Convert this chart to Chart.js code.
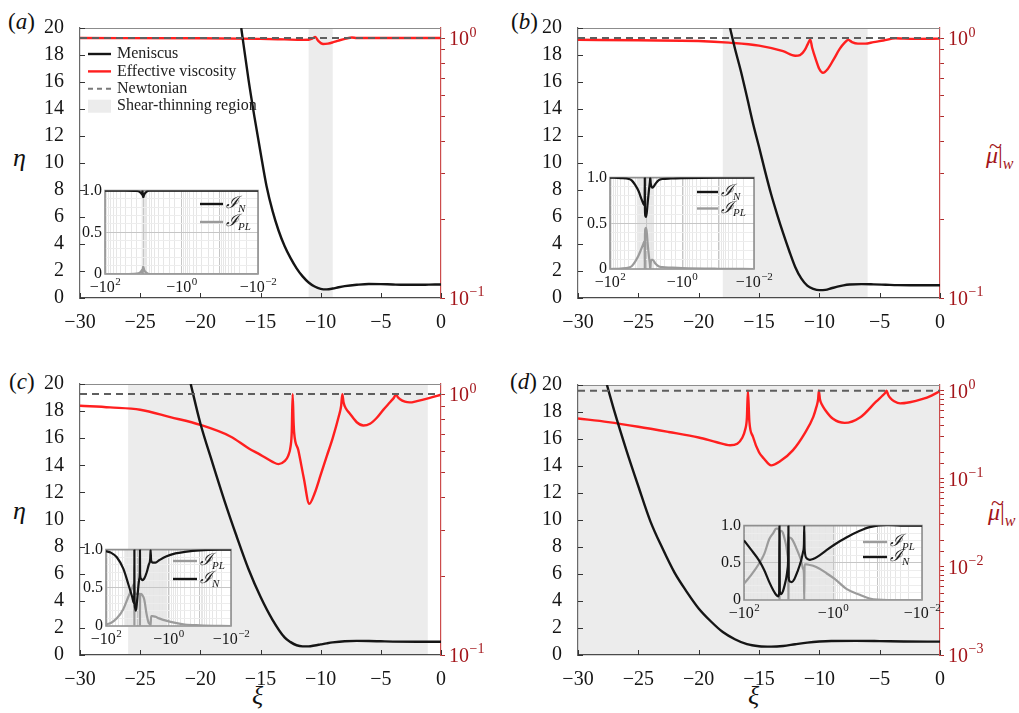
<!DOCTYPE html>
<html>
<head>
<meta charset="utf-8">
<title>Meniscus profile and effective viscosity</title>
<script src="https://cdn.jsdelivr.net/npm/chart.js@4.4.1/dist/chart.umd.min.js"></script>
<style>
  html, body { margin: 0; padding: 0; background: #fff; }
  body { position: relative; width: 1019px; height: 713px; overflow: hidden;
         font-family: "Liberation Serif", "DejaVu Serif", serif; color: #111; }
  canvas { position: absolute; }
  .t { position: absolute; white-space: nowrap; line-height: 1; }
  .red { color: #a3151a; }
  .mu { position: relative; display: inline-block; }
  .mu .tl { position: absolute; left: 3px; top: -9px; font-style: normal; }
</style>
</head>
<body>
<div class="t" style="left:8px;top:10px;font-size:23px">(<i>a</i>)</div>
<div class="t" style="left:511px;top:10px;font-size:23px">(<i>b</i>)</div>
<div class="t" style="left:9px;top:370px;font-size:23px">(<i>c</i>)</div>
<div class="t" style="left:510px;top:370px;font-size:23px">(<i>d</i>)</div>
<div class="t" style="left:13px;top:145px;font-size:26px"><i>η</i></div>
<div class="t" style="left:13px;top:498px;font-size:26px"><i>η</i></div>
<div class="t" style="left:252px;top:683px;font-size:26px"><i>ξ</i></div>
<div class="t" style="left:748px;top:683px;font-size:26px"><i>ξ</i></div>
<div class="t red" style="left:986px;top:143px;font-size:24px"><span class="mu"><i>μ</i><span class="tl">~</span></span>|<sub style="font-size:16px"><i>w</i></sub></div>
<div class="t red" style="left:988px;top:500px;font-size:24px"><span class="mu"><i>μ</i><span class="tl">~</span></span>|<sub style="font-size:16px"><i>w</i></sub></div>

<script>
const SERIF = '"Liberation Serif", "DejaVu Serif", serif';
const INK = '#151515';
const DARK_RED = '#a3151a';

// shared axes
const xiTicks = [-30, -25, -20, -15, -10, -5, 0];
const etaTicks = [0, 2, 4, 6, 8, 10, 12, 14, 16, 18, 20];
const insetYLabels = [0, 0.5, 1.0];
const insetXLabels = [100, 1, 0.01];
const newtXi = [-30, 0];
const newtMu = [1, 1];

// (a)
const shadeA = [-11, -9];
const menXiA = [-16.6, -16.0, -15.5, -15.0, -14.5, -14.0, -13.5, -13.0, -12.5, -12.0, -11.5, -11.0, -10.5, -10.0, -9.5, -9.0, -8.5, -8.0, -7.0, -6.0, -5.0, -4.0, -3.0, -2.0, -1.0, 0];
const menEtaA = [20, 16.2, 13.4, 10.8, 8.3, 6.45, 5.0, 3.85, 2.95, 2.2, 1.6, 1.15, 0.85, 0.68, 0.64, 0.7, 0.8, 0.88, 0.98, 1.04, 1.03, 1.0, 0.98, 0.98, 0.99, 1.0];
const visXiA = [-30, -20, -15, -13, -11.5, -11, -10.7, -10.45, -10.2, -9.8, -9.4, -9.0, -8.5, -7.9, -7.4, -7.0, -5, 0];
const visMuA = [1.0, 0.998, 0.993, 0.988, 0.984, 0.985, 0.995, 1.01, 0.975, 0.948, 0.952, 0.962, 0.978, 0.995, 1.005, 1.0, 1.0, 1.0];
const insXiA = [-100, -30, -15, -12, -11, -10.7, -10.5, -10.3, -10.0, -9.5, -8.5, -7, -1, -0.01];
const insNA = [1.0, 1.0, 0.995, 0.98, 0.96, 0.95, 1.0, 0.95, 0.92, 0.95, 0.98, 1.0, 1.0, 1.0];
const insPLA = [0, 0, 0.005, 0.02, 0.04, 0.05, 0.0, 0.06, 0.09, 0.05, 0.02, 0.0, 0, 0];

// (b)
const shadeB = [-18, -6];
const menXiB = [-17.4, -17.0, -16.5, -16.0, -15.5, -15.0, -14.5, -14.0, -13.5, -13.0, -12.5, -12.0, -11.5, -11.0, -10.5, -10.0, -9.5, -9.0, -8.5, -8.0, -7.5, -6.5, -5.5, -4.5, -3.5, -2.0, 0];
const menEtaB = [20, 18.5, 16.8, 14.9, 12.95, 11.2, 9.4, 7.7, 6.2, 4.8, 3.5, 2.3, 1.45, 0.92, 0.68, 0.58, 0.6, 0.72, 0.84, 0.94, 1.0, 1.03, 1.01, 0.98, 0.95, 0.94, 0.94];
const visXiB = [-30, -25, -20, -17.5, -15, -13, -12, -11.6, -11.2, -10.95, -10.75, -10.6, -10.3, -10.0, -9.7, -9.3, -8.8, -8.3, -7.9, -7.6, -7.3, -6.8, -6.2, -5.5, -4.7, -3.7, -3.0, -2.0, 0];
const visMuB = [0.985, 0.98, 0.974, 0.96, 0.935, 0.89, 0.855, 0.86, 0.9, 0.95, 0.985, 0.92, 0.83, 0.76, 0.735, 0.76, 0.83, 0.91, 0.96, 0.985, 0.965, 0.952, 0.952, 0.965, 0.978, 0.998, 0.995, 0.993, 0.995];
const insXiB = [-100, -50, -30, -25, -20, -16, -13.5, -12, -11.2, -10.9, -10.8, -10.7, -10.4, -10.0, -9.5, -9.0, -8.3, -7.8, -7.6, -7.4, -7.0, -6.5, -5.5, -4.5, -3.5, -2, -1, -0.1, -0.01];
const insNB = [1.0, 0.995, 0.985, 0.97, 0.92, 0.85, 0.77, 0.72, 0.7, 0.72, 1.0, 0.66, 0.58, 0.57, 0.62, 0.72, 0.86, 0.95, 1.0, 0.94, 0.9, 0.89, 0.93, 0.97, 0.985, 0.99, 0.995, 1.0, 1.0];
const insPLB = [0, 0.005, 0.015, 0.03, 0.08, 0.15, 0.22, 0.27, 0.3, 0.28, 0.0, 0.36, 0.44, 0.45, 0.4, 0.28, 0.14, 0.05, 0.0, 0.07, 0.1, 0.1, 0.06, 0.03, 0.02, 0.015, 0.01, 0.003, 0];

// (c)
const shadeC = [-26, -1.1];
const menXiC = [-20.8, -20.0, -19.0, -18.0, -17.0, -16.0, -15.0, -14.0, -13.0, -12.5, -12.0, -11.5, -11.0, -10.5, -10.0, -9.5, -9.0, -8.0, -7.0, -6.0, -5.0, -4.0, -2.0, 0];
const menEtaC = [20, 17.1, 14.2, 11.4, 8.8, 6.35, 4.3, 2.6, 1.3, 0.95, 0.72, 0.64, 0.64, 0.7, 0.78, 0.86, 0.93, 1.02, 1.04, 1.03, 1.01, 0.99, 0.98, 0.98];
const visXiC = [-30, -27.5, -25, -22.5, -20, -17.5, -16, -15, -14, -13.5, -13.0, -12.7, -12.5, -12.4, -12.33, -12.25, -12.2, -11.86, -11.4, -10.95, -10.5, -10.0, -9.5, -9.0, -8.5, -8.3, -8.2, -8.1, -7.9, -7.6, -7.0, -6.45, -5.9, -5.35, -4.8, -4.2, -3.9, -3.74, -3.6, -3.4, -3.0, -2.6, -2.0, -1.0, 0];
const visMuC = [0.902, 0.889, 0.871, 0.816, 0.762, 0.688, 0.62, 0.585, 0.55, 0.539, 0.553, 0.58, 0.63, 0.72, 1.0, 0.78, 0.708, 0.61, 0.476, 0.38, 0.417, 0.49, 0.577, 0.678, 0.82, 0.9, 1.0, 0.93, 0.88, 0.845, 0.78, 0.758, 0.77, 0.81, 0.87, 0.935, 0.97, 1.0, 0.975, 0.955, 0.935, 0.929, 0.94, 0.965, 0.995];
const insXiC = [-100, -70, -45, -28, -19.4, -14.5, -12.8, -12.45, -12.35, -12.25, -11.8, -11.1, -10.3, -9.4, -8.6, -8.3, -8.2, -8.1, -7.6, -6.8, -6.0, -5.0, -4.3, -3.85, -3.74, -3.6, -3.2, -2.6, -2.0, -1.2, -0.6, -0.3, -0.1, -0.01];
const insNC = [0.98, 0.96, 0.9, 0.75, 0.55, 0.38, 0.3, 0.35, 1.0, 0.32, 0.24, 0.2, 0.3, 0.48, 0.62, 0.7, 1.0, 0.68, 0.62, 0.6, 0.62, 0.7, 0.8, 0.88, 1.0, 0.86, 0.83, 0.83, 0.86, 0.91, 0.95, 0.97, 0.99, 1.0];
const insPLC = [0.02, 0.04, 0.1, 0.22, 0.38, 0.5, 0.55, 0.5, 0.0, 0.45, 0.43, 0.42, 0.42, 0.42, 0.42, 0.42, 0.0, 0.4, 0.42, 0.4, 0.35, 0.15, 0.04, 0.02, 0.0, 0.13, 0.13, 0.12, 0.1, 0.07, 0.04, 0.02, 0.01, 0];

// (d)
const shadeD = [-30, 0];
const insShadeD = [-100, -0.9];
const menXiD = [-27.6, -27, -26, -25, -24, -23, -22, -21, -20, -19, -18, -17, -16, -15, -14, -13, -12, -11, -10, -9, -7, -5, -3, 0];
const menEtaD = [20, 18.1, 15.2, 12.5, 9.9, 7.9, 6.1, 4.7, 3.45, 2.5, 1.7, 1.17, 0.8, 0.65, 0.62, 0.67, 0.8, 0.92, 1.0, 1.04, 1.05, 1.03, 1.0, 0.99];
const visXiD = [-30, -27.5, -25, -22.5, -20, -18.5, -17.4, -16.8, -16.4, -16.15, -16.0, -15.92, -15.8, -15.5, -15.0, -14.6, -14.0, -13.2, -12.2, -11.2, -10.5, -10.25, -10.1, -10.04, -9.95, -9.8, -9.5, -8.9, -7.9, -6.6, -5.3, -4.8, -4.55, -4.43, -4.3, -4.1, -3.8, -3.3, -2.5, -1.5, -0.7, 0];
const visMuD = [0.483, 0.44, 0.39, 0.34, 0.294, 0.26, 0.24, 0.25, 0.29, 0.36, 0.5, 1.0, 0.45, 0.3, 0.2, 0.17, 0.142, 0.16, 0.21, 0.33, 0.505, 0.65, 0.8, 1.0, 0.8, 0.7, 0.6, 0.483, 0.431, 0.5, 0.75, 0.87, 0.94, 1.0, 0.9, 0.82, 0.76, 0.717, 0.74, 0.8, 0.88, 0.99];
const insXiD = [-100, -70, -45.7, -35, -27, -22, -19, -17, -16.2, -15.95, -15.7, -14.5, -13.3, -12.2, -11.2, -10.5, -10.2, -10.04, -9.9, -9.4, -8.4, -7.4, -6.3, -5.2, -4.7, -4.5, -4.43, -4.35, -3.9, -3.3, -2.8, -2.0, -1.4, -0.9, -0.5, -0.25, -0.15, -0.06, -0.03, -0.01];
const insND = [0.8, 0.68, 0.53, 0.4, 0.24, 0.13, 0.07, 0.05, 0.1, 1.0, 0.12, 0.08, 0.12, 0.2, 0.3, 0.42, 0.55, 1.0, 0.3, 0.25, 0.24, 0.28, 0.38, 0.53, 0.65, 0.75, 1.0, 0.68, 0.56, 0.54, 0.55, 0.6, 0.67, 0.75, 0.84, 0.93, 0.98, 1.01, 1.0, 1.0];
const insPLD = [0.22, 0.33, 0.49, 0.62, 0.82, 0.9, 0.96, 0.96, 0.92, 0.0, 0.9, 0.93, 0.9, 0.82, 0.72, 0.6, 0.5, 0.0, 0.8, 0.84, 0.82, 0.76, 0.66, 0.53, 0.42, 0.35, 0.0, 0.48, 0.48, 0.47, 0.46, 0.42, 0.36, 0.28, 0.15, 0.07, 0.02, 0.0, 0.0, 0.0];

Chart.defaults.font.family = SERIF;
Chart.defaults.color = INK;

const pts = (xs, ys, f) => xs.map((x, i) => ({ x: f ? f(x) : x, y: ys[i] }));
const isPow10 = v => v > 0 && Math.abs(Math.log10(v) - Math.round(Math.log10(v))) < 1e-6;
const minus = v => (v < 0 ? '\u2212' + Math.abs(v) : String(v));
const serif = size => ({ family: SERIF, size });

// light band for the shear-thinning range (and white paper behind insets)
function shadePlugin(o) {
  return {
    id: 'shadeBand',
    beforeDraw(chart) {
      const { ctx, chartArea: a } = chart;
      const s = chart.scales.x;
      ctx.save();
      if (o.paper) { ctx.fillStyle = o.paper; ctx.fillRect(a.left, a.top, a.width, a.height); }
      const lo = Math.max(Math.min(o.from, o.to), s.min);
      const hi = Math.min(Math.max(o.from, o.to), s.max);
      if (hi > lo) {
        const p1 = s.getPixelForValue(lo), p2 = s.getPixelForValue(hi);
        ctx.fillStyle = o.color;
        ctx.fillRect(Math.min(p1, p2), a.top + o.inset, Math.abs(p2 - p1), a.height - o.inset);
      }
      ctx.restore();
    }
  };
}

// box lines that the scales do not draw
function framePlugin(o) {
  return {
    id: 'boxLines',
    beforeDatasetsDraw(chart) {
      const { ctx, chartArea: a } = chart;
      ctx.save();
      ctx.strokeStyle = o.color;
      ctx.lineWidth = o.width;
      ctx.beginPath();
      if (o.all) {
        ctx.rect(a.left, a.top, a.width, a.height);
      } else {
        ctx.moveTo(a.left, a.top + 0.5);
        ctx.lineTo(a.right, a.top + 0.5);
      }
      ctx.stroke();
      ctx.restore();
    }
  };
}

// tick marks pointing into the plot
function innerTicksPlugin(o) {
  return {
    id: 'innerTicks',
    afterDraw(chart) {
      const { ctx, chartArea: a } = chart;
      const xs = chart.scales.x, ys = chart.scales.eta;
      ctx.save();
      ctx.strokeStyle = o.color;
      ctx.lineWidth = 1;
      ctx.beginPath();
      xs.ticks.forEach(t => {
        const p = Math.round(xs.getPixelForValue(t.value)) + 0.5;
        ctx.moveTo(p, a.bottom);
        ctx.lineTo(p, a.bottom - o.len);
      });
      ys.ticks.forEach(t => {
        const p = Math.round(ys.getPixelForValue(t.value)) + 0.5;
        ctx.moveTo(a.left, p);
        ctx.lineTo(a.left + o.len, p);
      });
      ctx.stroke();
      ctx.restore();
    }
  };
}

// 10^n style labels with a raised exponent
function powerPlugin(ax) {
  return {
    id: 'powerLabels',
    afterDraw(chart) {
      const ctx = chart.ctx;
      const s = chart.scales[ax.id];
      s.ticks.forEach(t => {
        if (!isPow10(t.value)) return;
        if (ax.only && !ax.only.some(v => Math.abs(v - t.value) < 1e-9)) return;
        const e = Math.round(Math.log10(t.value));
        const base = ax.prefix + '10';
        const exp = (e < 0 ? '\u2212' : '') + Math.abs(e);
        const big = ax.size + 'px ' + SERIF;
        const small = Math.round(ax.size * 0.68) + 'px ' + SERIF;
        ctx.save();
        ctx.fillStyle = ax.color;
        ctx.textBaseline = 'middle';
        ctx.textAlign = 'left';
        ctx.font = big;
        const wb = ctx.measureText(base).width;
        ctx.font = small;
        const we = ctx.measureText(exp).width;
        const p = s.getPixelForValue(t.value);
        let x, y;
        if (s.isHorizontal()) { x = p - (wb + we) / 2; y = s.top + ax.offset; }
        else { x = s.left + ax.offset; y = p + 2; }
        ctx.font = big;
        ctx.fillText(base, x, y);
        ctx.font = small;
        ctx.fillText(exp, x + wb + 0.5, y - ax.size * 0.36);
        ctx.restore();
      });
    }
  };
}

// hand placed legend, with optional subscripts
function keyPlugin(o) {
  return {
    id: 'keyBox',
    afterDatasetsDraw(chart) {
      const ctx = chart.ctx;
      o.items.forEach((it, i) => {
        const y = o.y + i * o.dy;
        ctx.save();
        if (it.swatch) {
          ctx.fillStyle = it.swatch;
          ctx.fillRect(o.x, y - o.boxH / 2, o.len, o.boxH);
        } else {
          ctx.strokeStyle = it.color;
          ctx.lineWidth = it.width;
          ctx.setLineDash(it.dash || []);
          ctx.beginPath();
          ctx.moveTo(o.x, y);
          ctx.lineTo(o.x + o.len, y);
          ctx.stroke();
          ctx.setLineDash([]);
        }
        ctx.fillStyle = o.textColor;
        ctx.textBaseline = 'middle';
        ctx.textAlign = 'left';
        ctx.font = o.textFont;
        const tx = o.x + o.len + o.gap;
        ctx.fillText(it.label, tx, y);
        if (it.sub) {
          const w = ctx.measureText(it.label).width;
          ctx.font = o.subFont;
          ctx.fillText(it.sub, tx + w - 1, y + o.subShift);
        }
        ctx.restore();
      });
    }
  };
}

function addCanvas(b) {
  const cv = document.createElement('canvas');
  cv.width = b.w;
  cv.height = b.h;
  cv.style.left = b.x + 'px';
  cv.style.top = b.y + 'px';
  document.body.appendChild(cv);
  return cv;
}

function mainPanel(p) {
  const a = p.area, b = p.box;
  const cv = addCanvas(b);
  const plugins = [
    shadePlugin({ from: p.shade[0], to: p.shade[1], color: '#ececec', inset: 1 }),
    framePlugin({ color: '#8c8c8c', width: 1 }),
    innerTicksPlugin({ len: 5, color: '#333' }),
    powerPlugin({ id: 'mu', prefix: '', size: 20, color: DARK_RED, offset: 8 })
  ];
  if (p.key) plugins.push(keyPlugin(Object.assign({}, p.key, { x: p.key.x - b.x, y: p.key.y - b.y })));
  return new Chart(cv, {
    type: 'line',
    data: {
      datasets: [
        { label: 'Newtonian', data: pts(newtXi, newtMu), yAxisID: 'mu',
          borderColor: '#5e5e5e', borderWidth: 2, borderDash: [7, 5] },
        { label: 'Meniscus', data: pts(p.menXi, p.menEta), yAxisID: 'eta',
          borderColor: INK, borderWidth: 2.4, cubicInterpolationMode: 'monotone' },
        { label: 'Effective viscosity', data: pts(p.visXi, p.visMu), yAxisID: 'mu',
          borderColor: '#ff1f1f', borderWidth: 2.4, cubicInterpolationMode: 'monotone' }
      ]
    },
    options: {
      responsive: false,
      animation: false,
      events: [],
      elements: { point: { radius: 0 } },
      layout: { padding: { top: a.t - b.y, right: 0, bottom: 0, left: 0 } },
      plugins: { legend: { display: false }, tooltip: { enabled: false } },
      scales: {
        x: {
          type: 'linear', min: -30, max: 0,
          afterBuildTicks: s => { s.ticks = xiTicks.map(v => ({ value: v })); },
          ticks: { callback: v => minus(v), font: serif(20), color: INK, padding: 5, maxRotation: 0, autoSkip: false },
          grid: { display: false },
          border: { color: '#4a4a4a', width: 1.2 },
          afterFit: s => { s.height = b.y + b.h - a.b; }
        },
        eta: {
          type: 'linear', position: 'left', min: 0, max: 20,
          afterBuildTicks: s => { s.ticks = etaTicks.map(v => ({ value: v })); },
          ticks: { font: serif(20), color: INK, padding: 8, autoSkip: false },
          grid: { display: false },
          border: { color: '#6a6a6a', width: 1.2 },
          afterFit: s => { s.width = a.l - b.x; }
        },
        mu: {
          type: 'logarithmic', position: 'right', min: p.muMin, max: p.muMax,
          afterBuildTicks: s => { s.ticks = s.ticks.filter(t => t.value <= 1.0001); },
          ticks: { display: false, autoSkip: false },
          grid: { drawOnChartArea: false, color: '#b02a2a', tickLength: 4, lineWidth: 1 },
          border: { color: '#cc4b4b', width: 1.2 },
          afterFit: s => { s.width = b.x + b.w - a.r; }
        }
      }
    },
    plugins
  });
}

function insetPanel(q) {
  const a = q.area;
  const b = { x: a.l - 36, y: a.t - 12, w: a.r - a.l + 60, h: a.b - a.t + 40 };
  const cv = addCanvas(b);
  const neg = v => -v;
  return new Chart(cv, {
    type: 'line',
    data: {
      datasets: [
        { label: 'N', data: pts(q.xi, q.iN, neg), borderColor: INK, borderWidth: 2.2,
          cubicInterpolationMode: 'monotone' },
        { label: 'PL', data: pts(q.xi, q.iPL, neg), borderColor: '#9b9b9b', borderWidth: 2.2,
          cubicInterpolationMode: 'monotone' }
      ]
    },
    options: {
      responsive: false,
      animation: false,
      events: [],
      elements: { point: { radius: 0 } },
      layout: { padding: { top: a.t - b.y, right: b.x + b.w - a.r, bottom: 0, left: 0 } },
      plugins: { legend: { display: false }, tooltip: { enabled: false } },
      scales: {
        x: {
          type: 'logarithmic', reverse: true, min: 0.01, max: 100,
          ticks: { display: false, autoSkip: false },
          grid: { color: c => (isPow10(c.tick.value) ? '#c6c6c6' : '#e6e6e6'), drawTicks: false, lineWidth: 1 },
          border: { display: false },
          afterFit: s => { s.height = b.y + b.h - a.b; }
        },
        y: {
          type: 'linear', min: 0, max: 1,
          ticks: {
            stepSize: 0.1, autoSkip: false, font: serif(16), color: INK, padding: 3,
            callback: v => {
              const hit = insetYLabels.find(l => Math.abs(l - v) < 1e-6);
              return hit === undefined ? '' : (hit === 0 ? '0' : hit.toFixed(1));
            }
          },
          grid: { color: c => (Math.abs(c.tick.value - 0.5) < 1e-6 ? '#c6c6c6' : '#ededed'), drawTicks: false, lineWidth: 1 },
          border: { display: false },
          afterFit: s => { s.width = a.l - b.x; }
        }
      }
    },
    plugins: [
      shadePlugin({ from: -q.shade[0], to: -q.shade[1], color: '#e8e8e8', paper: '#fff', inset: 0 }),
      framePlugin({ color: '#8f8f8f', width: 1.6, all: true }),
      powerPlugin({ id: 'x', prefix: '\u2212', size: 16, color: INK, offset: 14, only: insetXLabels }),
      keyPlugin(Object.assign({}, q.key, { x: q.key.x - b.x, y: q.key.y - b.y }))
    ]
  });
}

const mainKeyStyle = { len: 23, gap: 6, boxH: 13, textColor: '#222',
  textFont: '16px ' + SERIF, subFont: '10px ' + SERIF, subShift: 4 };
const insetKeyStyle = { gap: 3, boxH: 10, textColor: '#222',
  textFont: 'italic 17px ' + SERIF, subFont: 'italic 11px ' + SERIF, subShift: 5 };
const itemN = { label: '\u2110', sub: 'N', color: INK, width: 2.4 };
const itemPL = { label: '\u2110', sub: 'PL', color: '#9b9b9b', width: 2.4 };

mainPanel({
  box: { x: 0, y: 0, w: 500, h: 345 }, area: { l: 80, t: 28, r: 441, b: 298 },
  menXi: menXiA, menEta: menEtaA, visXi: visXiA, visMu: visMuA, shade: shadeA,
  muMin: 0.1, muMax: 1.093,
  key: Object.assign({ x: 88, y: 54, dy: 17.4, items: [
    { label: 'Meniscus', color: INK, width: 2.4 },
    { label: 'Effective viscosity', color: '#ff1f1f', width: 2.4 },
    { label: 'Newtonian', color: '#7a7a7a', width: 2, dash: [5, 4] },
    { label: 'Shear-thinning region', swatch: '#ececec' }
  ] }, mainKeyStyle)
});
mainPanel({
  box: { x: 505, y: 0, w: 514, h: 345 }, area: { l: 578, t: 28, r: 940, b: 298 },
  menXi: menXiB, menEta: menEtaB, visXi: visXiB, visMu: visMuB, shade: shadeB,
  muMin: 0.1, muMax: 1.093
});
mainPanel({
  box: { x: 0, y: 350, w: 500, h: 363 }, area: { l: 80, t: 384, r: 441, b: 655 },
  menXi: menXiC, menEta: menEtaC, visXi: visXiC, visMu: visMuC, shade: shadeC,
  muMin: 0.1, muMax: 1.093
});
mainPanel({
  box: { x: 505, y: 350, w: 514, h: 363 }, area: { l: 578, t: 385, r: 940, b: 655 },
  menXi: menXiD, menEta: menEtaD, visXi: visXiD, visMu: visMuD, shade: shadeD,
  muMin: 0.001, muMax: 1.16
});

insetPanel({
  area: { l: 105, t: 190, r: 258, b: 274 }, xi: insXiA, iN: insNA, iPL: insPLA, shade: shadeA,
  key: Object.assign({ x: 200, y: 204, dy: 18, len: 23, items: [itemN, itemPL] }, insetKeyStyle)
});
insetPanel({
  area: { l: 610, t: 177, r: 754, b: 269 }, xi: insXiB, iN: insNB, iPL: insPLB, shade: shadeB,
  key: Object.assign({ x: 697, y: 192, dy: 16.5, len: 21, items: [itemN, itemPL] }, insetKeyStyle)
});
insetPanel({
  area: { l: 106, t: 549, r: 231, b: 626 }, xi: insXiC, iN: insNC, iPL: insPLC, shade: shadeC,
  key: Object.assign({ x: 173, y: 561, dy: 18, len: 24, items: [itemPL, itemN] }, insetKeyStyle)
});
insetPanel({
  area: { l: 744, t: 525, r: 922, b: 600 }, xi: insXiD, iN: insND, iPL: insPLD, shade: insShadeD,
  key: Object.assign({ x: 863, y: 542, dy: 15, len: 24, items: [itemPL, itemN] }, insetKeyStyle)
});
</script>
</body>
</html>
